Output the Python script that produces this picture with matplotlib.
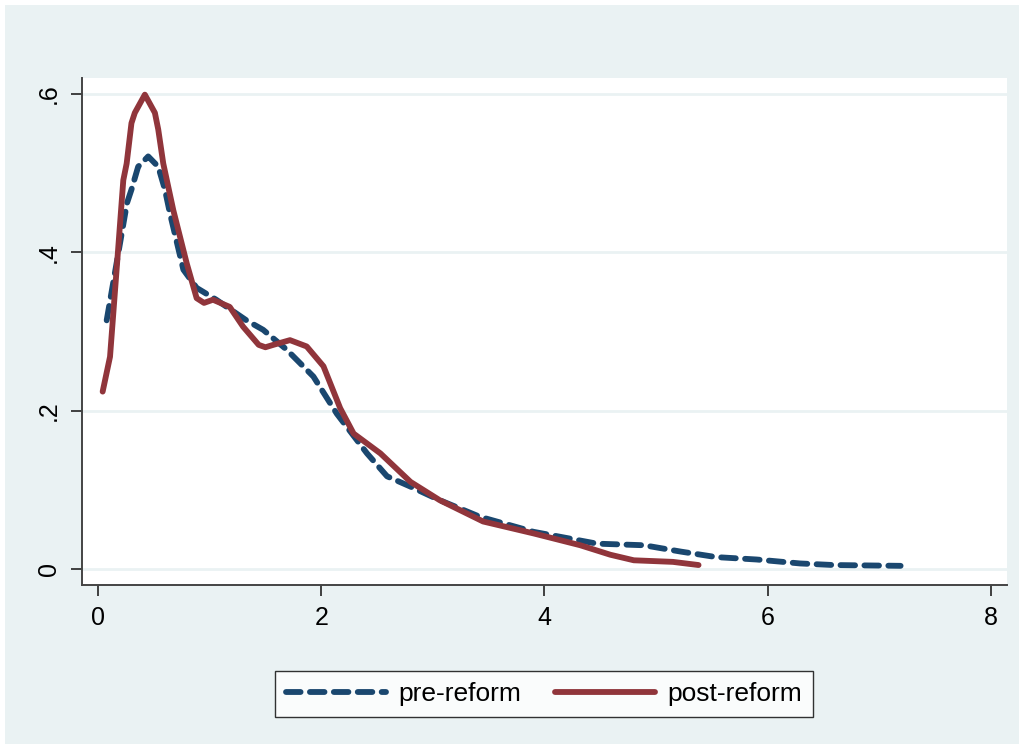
import numpy as np
import matplotlib.pyplot as plt
from matplotlib.patches import Rectangle

plt.rcParams['font.family'] = ['Liberation Sans', 'DejaVu Sans']

# kernel density curves
pre_x = [0.078, 0.26, 0.30, 0.36, 0.45, 0.54, 0.60, 0.645, 0.765, 0.884, 1.06, 1.33, 1.48,
         1.69, 1.93, 2.14, 2.41, 2.59, 2.80, 3.06, 3.42, 3.90, 4.47, 4.89, 5.22, 5.54, 5.90,
         6.29, 6.59, 7.19]
pre_y = [0.314, 0.462, 0.479, 0.508, 0.521, 0.508, 0.479, 0.449, 0.378, 0.355, 0.340, 0.314,
         0.302, 0.277, 0.243, 0.196, 0.146, 0.117, 0.104, 0.087, 0.066, 0.047, 0.032, 0.030,
         0.022, 0.015, 0.012, 0.007, 0.005, 0.004]

post_x = [0.042, 0.108, 0.167, 0.227, 0.257, 0.30, 0.33, 0.42, 0.51, 0.54, 0.585, 0.675,
          0.795, 0.884, 0.95, 1.03, 1.18, 1.30, 1.44, 1.50, 1.57, 1.72, 1.87, 2.02, 2.17,
          2.29, 2.53, 2.80, 3.06, 3.45, 3.90, 4.32, 4.59, 4.80, 5.15, 5.38]
post_y = [0.224, 0.268, 0.378, 0.491, 0.512, 0.563, 0.576, 0.599, 0.576, 0.555, 0.512, 0.453,
          0.386, 0.342, 0.336, 0.340, 0.331, 0.306, 0.283, 0.280, 0.283, 0.289, 0.281, 0.256,
          0.203, 0.171, 0.146, 0.110, 0.087, 0.060, 0.045, 0.030, 0.018, 0.011, 0.009, 0.005]

xticks = [0, 2, 4, 6, 8]
yticks = [0, 0.2, 0.4, 0.6]
ylabels = ['0', '.2', '.4', '.6']

navy = '#1A476F'
maroon = '#90353B'
bg = '#EAF2F3'

fig = plt.figure(figsize=(10.24, 7.49), dpi=100)
fig.patch.set_facecolor('white')
fig.patches.append(Rectangle((5/1024, 5/749), 1014/1024, 739/749, transform=fig.transFigure,
                             facecolor=bg, edgecolor='none', zorder=-10))

ax = fig.add_axes([82/1024, 1 - 585/749, 925/1024, 507/749])
ax.set_facecolor('white')

for y in yticks:
    ax.axhline(y, color=bg, lw=2, zorder=0)

ax.plot(pre_x, pre_y, color=navy, lw=4.2, linestyle=(0, (2.5, 1.6)),
        dash_capstyle='round', dash_joinstyle='round', label='pre-reform')
ax.plot(post_x, post_y, color=maroon, lw=4.2, solid_capstyle='round',
        solid_joinstyle='round', label='post-reform')

ax.set_xlim(-0.143, 8.143)
ax.set_ylim(-0.0202, 0.620)
ax.set_xticks(xticks)
ax.set_xticklabels([str(t) for t in xticks])
ax.set_yticks(yticks)
ax.set_yticklabels(ylabels, rotation=90, va='center')

for s in ['top', 'right']:
    ax.spines[s].set_visible(False)
for s in ['left', 'bottom']:
    ax.spines[s].set_color('#444444')
    ax.spines[s].set_linewidth(1.4)
ax.tick_params(length=8, width=1.2, color='#222222', labelsize=18, pad=7)

leg = fig.legend(loc='center', bbox_to_anchor=(544/1024, 1 - 694/749), ncol=2,
                 fontsize=19, frameon=True, fancybox=False, edgecolor='black',
                 handlelength=3.8, handletextpad=0.45, columnspacing=1.3,
                 borderpad=0.42, borderaxespad=0)
leg.get_frame().set_linewidth(1.0)
leg.get_frame().set_facecolor('white')

fig.savefig('out.png', dpi=100)
